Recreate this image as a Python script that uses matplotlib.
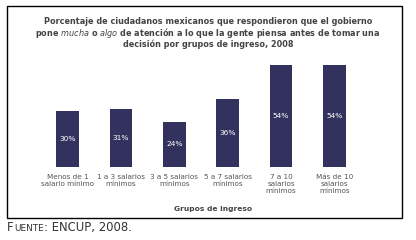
import matplotlib
matplotlib.use("Agg")
import matplotlib.pyplot as plt
from matplotlib.patches import Rectangle

# data
categories = ["Menos de 1\nsalario mínimo", "1 a 3 salarios\nmínimos", "3 a 5 salarios\nmínimos",
              "5 a 7 salarios\nmínimos", "7 a 10\nsalarios\nmínimos", "Más de 10\nsalarios\nmínimos"]
values = [30, 31, 24, 36, 54, 54]
value_labels = ["30%", "31%", "24%", "36%", "54%", "54%"]

bar_color = "#33325f"
text_color = "#555555"
title_color = "#444444"

W, H = 416, 240
fig = plt.figure(figsize=(W / 100, H / 100), dpi=100)
fig.patch.set_facecolor("white")

# outer box
fig.add_artist(Rectangle((7 / W, 1 - 218 / H), 395 / W, 212 / H, transform=fig.transFigure,
                         fill=False, edgecolor="black", linewidth=1.0))

# title
title_fs = 5.9
fig.text(208 / W, 1 - 22 / H, "Porcentaje de ciudadanos mexicanos que respondieron que el gobierno",
         ha="center", va="center", fontsize=title_fs, fontweight="bold", color=title_color)
fig.text(208 / W, 1 - 33 / H,
         "pone $\\mathit{mucha}$ o $\\mathit{algo}$ de atención a lo que la gente piensa antes de tomar una",
         ha="center", va="center", fontsize=title_fs, fontweight="bold", color=title_color)
fig.text(208 / W, 1 - 44 / H, "decisión por grupos de ingreso, 2008",
         ha="center", va="center", fontsize=title_fs, fontweight="bold", color=title_color)

# axes: bar bottom at y=167px, 6 slots of ~53.3px starting at x=41
ax_left, ax_w = 41, 320
ax_bottom, ax_top = 167, 54
ax = fig.add_axes([ax_left / W, 1 - ax_bottom / H, ax_w / W, (ax_bottom - ax_top) / H])
x = list(range(len(values)))
bars = ax.bar(x, values, width=0.42, color=bar_color)
ax.set_xlim(-0.5, 5.5)
ax.set_ylim(0, 60)
for rect, lab in zip(bars, value_labels):
    ax.text(rect.get_x() + rect.get_width() / 2, rect.get_height() / 2, lab,
            ha="center", va="center", fontsize=5.4, color="white")

ax.set_xticks(x)
ax.set_xticklabels(categories, fontsize=5.2, color=text_color, linespacing=1.25, va="top")
ax.tick_params(axis="x", length=0, pad=5)
ax.set_yticks([])
for s in ax.spines.values():
    s.set_visible(False)
ax.patch.set_alpha(0)

fig.text(213 / W, 1 - 209 / H, "Grupos de ingreso", ha="center", va="center",
         fontsize=5.4, fontweight="bold", color=title_color)

# source line, small caps style
src_y = 1 - 231 / H
t1 = fig.text(7 / W, src_y, "F", ha="left", va="baseline", fontsize=8.4, color="#333333")
t2 = fig.text(0, src_y, "UENTE", ha="left", va="baseline", fontsize=6.4, color="#333333")
t3 = fig.text(0, src_y, ": ENCUP, 2008.", ha="left", va="baseline", fontsize=8.4, color="#333333")
fig.canvas.draw()
r = fig.canvas.get_renderer()
x1 = t1.get_window_extent(r).x1
t2.set_x(x1 / fig.bbox.width + 0.002)
x2 = t2.get_window_extent(r).x1
t3.set_x(x2 / fig.bbox.width)

fig.savefig("out.png", dpi=100)
